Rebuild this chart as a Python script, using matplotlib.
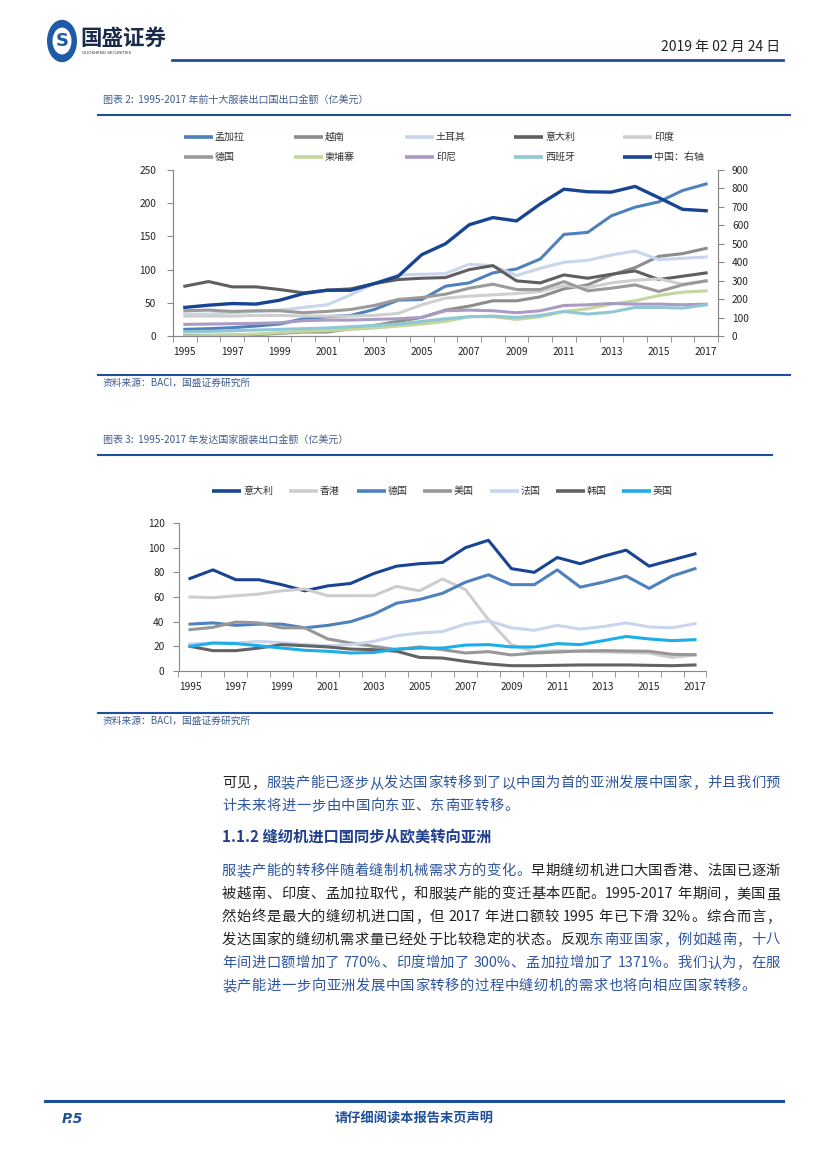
import matplotlib
matplotlib.use("Agg")
import matplotlib.pyplot as plt
from matplotlib.lines import Line2D
from matplotlib.patches import Circle
from matplotlib.font_manager import FontProperties

plt.rcParams['font.family'] = ['Noto Sans CJK SC', 'DejaVu Sans']

# ---------------- data ----------------
years = list(range(1995, 2018))
xtick_years = list(range(1995, 2018, 2))

# Chart 1 (亿美元) - left axis
bangladesh = [10, 11, 12.5, 15, 18, 26, 29, 31, 40, 54, 55, 75, 80, 95, 101, 116, 153, 156, 181, 194, 202, 219, 229]
vietnam = [1, 1, 1.5, 2, 4, 6, 6, 11, 16, 22, 28, 39, 45, 53, 53, 59, 71, 77, 92, 103, 120, 124, 132]
turkey = [33, 33, 35, 37, 39, 43, 47, 62, 79, 92, 93, 94, 108, 106, 91, 102, 111, 114, 122, 128, 115, 117, 119]
italy = [75, 82, 74, 74, 70, 65, 69, 71, 79, 85, 87, 88, 100, 106, 83, 80, 92, 87, 93, 98, 85, 90, 95]
india = [30, 30, 30, 31, 31, 30, 30, 30, 31, 34, 47, 57, 60, 62, 64, 67, 76, 73, 80, 84, 86, 78, 83]
germany = [38, 39, 37, 38, 38, 35, 37, 40, 46, 55, 58, 63, 72, 78, 70, 70, 82, 68, 72, 77, 67, 77, 83]
cambodia = [0, 0.5, 1.5, 3, 5, 7, 8, 10, 12, 15, 18, 22, 29, 29, 25, 29, 37, 41, 48, 53, 61, 66, 68]
indonesia = [17.5, 18, 18.5, 19, 20, 23, 24, 24, 25, 26, 28, 38, 39, 38, 35, 38, 46, 47, 49, 48, 48, 47, 48]
spain = [6.5, 7, 8, 9, 10, 11, 12, 14, 16, 18, 22, 26, 29, 30, 28, 31, 37, 33, 36, 43, 43, 42, 47]
# right axis
china = [155, 167, 176, 173, 194, 230, 248, 248, 284, 324, 441, 500, 603, 642, 624, 716, 796, 782, 780, 811, 750, 687, 679]

# Chart 2 (亿美元)
italy2 = italy
hongkong = [60, 59.5, 61, 62.4, 65, 66.5, 61, 61, 61, 68.6, 65, 74.6, 66, 41.6, 21.4, 15.5, 16.5, 16, 15.5, 15, 14.5, 11, 13]
germany2 = germany
usa = [33.5, 35.4, 39.7, 39, 35, 35, 26, 22.7, 20, 17.3, 19.5, 17.3, 14.6, 15.7, 13, 14.6, 15.4, 16.2, 16.5, 16.2, 16, 13.5, 13.2]
france = [22, 22.7, 22.7, 24, 23, 21.4, 20.5, 21.4, 24, 28.6, 30.8, 32, 38, 40.8, 35, 33, 37, 34, 36, 39, 35.7, 35, 38.4]
korea = [20, 16.5, 16.5, 18.6, 21.4, 20.5, 19.5, 17.8, 17.3, 16, 11, 10.5, 7.8, 5.7, 4.3, 4.3, 4.6, 4.9, 4.9, 4.9, 4.6, 4.3, 4.9]
uk = [20, 22.7, 22.2, 20.5, 18.6, 16.8, 16, 14.6, 15, 17.8, 18.6, 18.6, 21, 21.4, 19.5, 19.5, 22.2, 21.4, 24.6, 28, 26, 24.6, 25.4]

c1_names = ['孟加拉', '越南', '土耳其', '意大利', '印度', '德国', '柬埔寨', '印尼', '西班牙']
c1_series = [bangladesh, vietnam, turkey, italy, india, germany, cambodia, indonesia, spain]
c1_colors = ['#4F81BD', '#8C8C8C', '#C9D5EC', '#5F5F5F', '#CFCFCF', '#9A9A9A', '#C3D69B', '#A99BC4', '#8FC7D4']
china_name = '中国：右轴'
china_color = '#174592'

c2_names = ['意大利', '香港', '德国', '美国', '法国', '韩国', '英国']
c2_series = [italy2, hongkong, germany2, usa, france, korea, uk]
c2_colors = ['#174592', '#CDCDCD', '#4F81BD', '#979797', '#C9D5EC', '#636363', '#1CAEE8']

# ---------------- figure ----------------
W, H = 827, 1169
fig = plt.figure(figsize=(W / 100, H / 100), dpi=100)


def fx(x):
    return x / W


def fy(y):
    return 1 - y / H


BLUE = '#1F4E9A'
TXT_BLUE = '#2E55A0'
CAP = '#3E5C8E'


def hline(x0, x1, y, lw=1.5, color=BLUE):
    fig.add_artist(Line2D([fx(x0), fx(x1)], [fy(y), fy(y)], lw=lw, color=color,
                          transform=fig.transFigure))


# header
fig.add_artist(Circle((fx(62), fy(41)), 15 / W, transform=fig.transFigure,
                      facecolor='#1F5AA6', edgecolor='none'))
fig.add_artist(Circle((fx(62), fy(41)), 9.5 / W, transform=fig.transFigure,
                      facecolor='white', edgecolor='none'))
fig.text(fx(62), fy(41), 'S', fontsize=13, fontweight='bold', color='#1F5AA6',
         ha='center', va='center', family='DejaVu Sans')
fig.text(fx(80), fy(38), '国盛证券', fontsize=15.5, fontweight='bold', color='#1A2A4A',
         ha='left', va='center')
fig.text(fx(82), fy(53), 'GUOSHENG SECURITIES', fontsize=3, color='#333333',
         ha='left', va='center', family='DejaVu Sans')
fig.text(fx(780), fy(47), '2019 年 02 月 24 日', fontsize=10, color='#222222',
         ha='right', va='center')
hline(172, 783, 60, lw=2.0)

# chart 1 captions
fig.text(fx(103), fy(101), '图表 2:  1995-2017 年前十大服装出口国出口金额（亿美元）', fontsize=7.2,
         color=CAP, ha='left', va='center')
hline(98, 790, 115, lw=1.5)
hline(98, 790, 375, lw=1.5)
fig.text(fx(103), fy(383), '资料来源：BACI，国盛证券研究所', fontsize=7, color=CAP, ha='left', va='center')

# chart 1 legend
leg1_x = [184, 294, 405, 514, 623]
leg_rows = [137, 157]
all_names = c1_names + [china_name]
all_cols = c1_colors + [china_color]
for i, (nm, col) in enumerate(zip(all_names, all_cols)):
    r, c = divmod(i, 5)
    x0 = leg1_x[c]
    y = leg_rows[r]
    fig.add_artist(Line2D([fx(x0), fx(x0 + 29)], [fy(y), fy(y)], lw=2.6, color=col,
                          transform=fig.transFigure, solid_capstyle='butt'))
    fig.text(fx(x0 + 31), fy(y), nm, fontsize=7.2, color='#333333', ha='left', va='center')

# chart 1 axes
ax1 = fig.add_axes([fx(173), fy(336), fx(718) - fx(173), fy(170) - fy(336)])
for s, col in zip(c1_series, c1_colors):
    ax1.plot(years, s, color=col, lw=2.2, solid_joinstyle='round')
ax1.set_xlim(1994.5, 2017.5)
ax1.set_ylim(0, 250)
ax1.set_yticks([0, 50, 100, 150, 200, 250])
ax1.set_xticks(xtick_years)
ax1.set_xticks([y + 0.5 for y in range(1994, 2018)], minor=True)
ax1.tick_params(axis='x', which='major', length=0, labelsize=7.3, pad=8, colors='#222222')
ax1.tick_params(axis='x', which='minor', length=4, direction='out', color='#888888')
ax1.tick_params(axis='y', length=4, direction='out', color='#888888', labelsize=7.3,
                colors='#222222', pad=8)
ax1.tick_params(axis='y', which='major', color='#888888')
ax1.spines['top'].set_visible(False)
for sp in ['left', 'bottom', 'right']:
    ax1.spines[sp].set_color('#888888')
    ax1.spines[sp].set_linewidth(0.8)

ax1r = ax1.twinx()
ax1r.plot(years, china, color=china_color, lw=2.4, solid_joinstyle='round')
ax1r.set_ylim(0, 900)
ax1r.set_yticks(range(0, 901, 100))
ax1r.tick_params(axis='y', length=4, direction='out', color='#888888', labelsize=7.3,
                 colors='#222222', pad=6)
ax1r.spines['top'].set_visible(False)
for sp in ['left', 'bottom', 'right']:
    ax1r.spines[sp].set_color('#888888')
    ax1r.spines[sp].set_linewidth(0.8)
ax1r.set_xlim(1994.5, 2017.5)
for lab in ax1.get_yticklabels() + ax1r.get_yticklabels():
    lab.set_color('#222222')

# chart 2 captions
fig.text(fx(103), fy(441), '图表 3:  1995-2017 年发达国家服装出口金额（亿美元）', fontsize=7.2,
         color=CAP, ha='left', va='center')
hline(98, 772, 455, lw=1.5)
hline(98, 772, 713, lw=1.5)
fig.text(fx(103), fy(721), '资料来源：BACI，国盛证券研究所', fontsize=7, color=CAP, ha='left', va='center')

# chart 2 legend
leg2_x = [212, 289, 357, 423, 490, 556, 622]
for nm, col, x0 in zip(c2_names, c2_colors, leg2_x):
    y = 491
    fig.add_artist(Line2D([fx(x0), fx(x0 + 29)], [fy(y), fy(y)], lw=2.6, color=col,
                          transform=fig.transFigure, solid_capstyle='butt'))
    fig.text(fx(x0 + 31), fy(y), nm, fontsize=7.2, color='#333333', ha='left', va='center')

ax2 = fig.add_axes([fx(178.5), fy(671), fx(706.5) - fx(178.5), fy(523) - fy(671)])
for s, col in zip(c2_series, c2_colors):
    ax2.plot(years, s, color=col, lw=2.2, solid_joinstyle='round')
ax2.set_xlim(1994.5, 2017.5)
ax2.set_ylim(0, 120)
ax2.set_yticks(range(0, 121, 20))
ax2.set_xticks(xtick_years)
ax2.set_xticks([y + 0.5 for y in range(1994, 2018)], minor=True)
ax2.tick_params(axis='x', which='major', length=0, labelsize=7.3, pad=8, colors='#222222')
ax2.tick_params(axis='x', which='minor', length=4, direction='out', color='#888888')
ax2.tick_params(axis='y', length=4, direction='out', color='#888888', labelsize=7.3,
                colors='#222222', pad=6)
ax2.spines['top'].set_visible(False)
ax2.spines['right'].set_visible(False)
for sp in ['left', 'bottom']:
    ax2.spines[sp].set_color('#888888')
    ax2.spines[sp].set_linewidth(0.8)

# ---------------- body text ----------------
renderer = fig.canvas.get_renderer()
BODY_FP = FontProperties(family='Noto Sans CJK SC', size=10.3)
BLACK = '#222222'


def tokens(runs):
    out = []
    for s, col in runs:
        buf = ''
        for ch in s:
            if ord(ch) < 128 and ch != ' ':
                buf += ch
            else:
                if buf:
                    out.append((buf, col))
                    buf = ''
                if ch == ' ':
                    out.append((' ', col))
                else:
                    out.append((ch, col))
        if buf:
            out.append((buf, col))
    return out


def width(tok, fp):
    if tok == ' ':
        w, _, _ = renderer.get_text_width_height_descent('a a', fp, ismath=False)
        w2, _, _ = renderer.get_text_width_height_descent('aa', fp, ismath=False)
        return w - w2
    w, _, _ = renderer.get_text_width_height_descent(tok, fp, ismath=False)
    return w


def draw_line(y, runs, x0=222, x1=780, justify=True, fp=BODY_FP):
    toks = tokens(runs)
    ws = [width(t, fp) for t, _ in toks]
    total = sum(ws)
    gap = (x1 - x0 - total) / (len(toks) - 1) if (justify and len(toks) > 1) else 0.6
    x = x0
    for (t, col), w in zip(toks, ws):
        if t != ' ':
            fig.text(fx(x), fy(y), t, fontproperties=fp, color=col, ha='left', va='center')
        x += w + gap


draw_line(783, [('可见，', BLACK), ('服装产能已逐步从发达国家转移到了以中国为首的亚洲发展中国家，并且我们预', TXT_BLUE)])
draw_line(806, [('计未来将进一步由中国向东亚、东南亚转移。', TXT_BLUE)], justify=False)

fig.text(fx(222), fy(836), '1.1.2 缝纫机进口国同步从欧美转向亚洲', fontsize=11, fontweight='bold',
         color='#1F3F8F', ha='left', va='center')

draw_line(871, [('服装产能的转移伴随着缝制机械需求方的变化。', TXT_BLUE), ('早期缝纫机进口大国香港、法国已逐渐', BLACK)])
draw_line(894, [('被越南、印度、孟加拉取代，和服装产能的变迁基本匹配。1995-2017 年期间，美国虽', BLACK)])
draw_line(917, [('然始终是最大的缝纫机进口国，但 2017 年进口额较 1995 年已下滑 32%。综合而言，', BLACK)])
draw_line(940, [('发达国家的缝纫机需求量已经处于比较稳定的状态。反观', BLACK), ('东南亚国家，例如越南，十八', TXT_BLUE)])
draw_line(963, [('年间进口额增加了 770%、印度增加了 300%、孟加拉增加了 1371%。我们认为，在服', TXT_BLUE)])
draw_line(986, [('装产能进一步向亚洲发展中国家转移的过程中缝纫机的需求也将向相应国家转移。', TXT_BLUE)], justify=False)

# footer
hline(45, 783, 1101, lw=2.2)
fig.text(fx(62), fy(1119), 'P.5', fontsize=10, fontweight='bold', style='italic', color=BLUE,
         ha='left', va='center', family='DejaVu Sans')
fig.text(fx(414), fy(1119), '请仔细阅读本报告末页声明', fontsize=9.5, fontweight='bold', color=BLUE,
         ha='center', va='center')

fig.savefig('out.png', dpi=100)
